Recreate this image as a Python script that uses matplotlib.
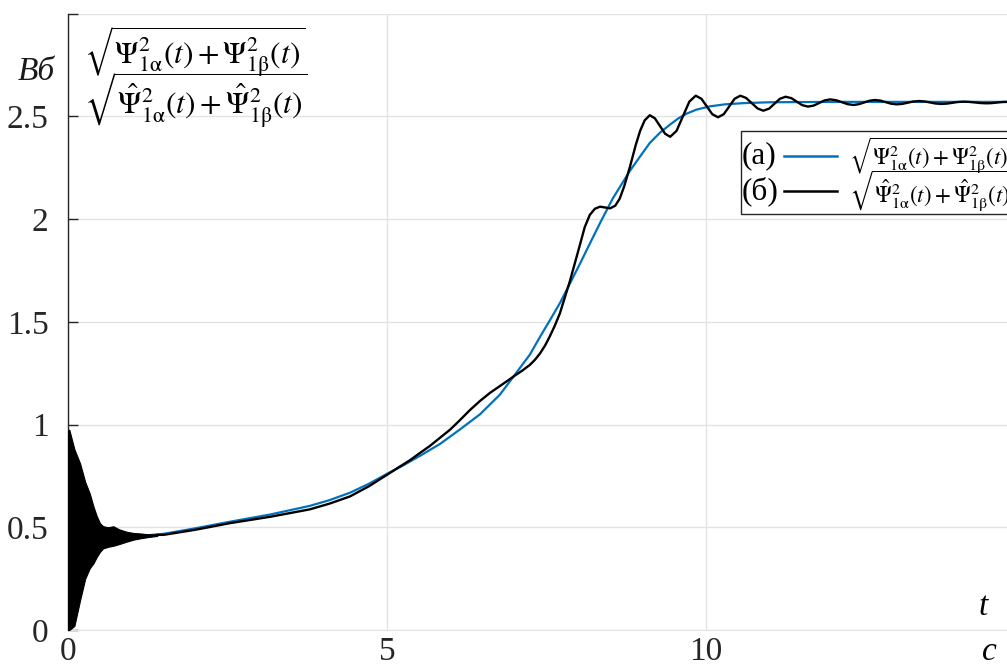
import matplotlib
matplotlib.use("Agg")
import matplotlib.pyplot as plt
from matplotlib.patches import Rectangle
from matplotlib.lines import Line2D

SERIF = ["Liberation Serif", "DejaVu Serif"]
plt.rcParams["font.family"] = SERIF
plt.rcParams["font.serif"] = SERIF
plt.rcParams["mathtext.fontset"] = "stix"

# (а) flux-linkage magnitude of the model, Wb
t_model = [0.0, 1.0, 1.5, 2.0, 2.54, 3.17, 3.79, 4.1, 4.42, 4.72, 5.0, 5.25, 5.52,
           5.83, 6.14, 6.46, 6.77, 7.0, 7.24, 7.4, 7.55, 7.71, 7.87, 8.03, 8.18,
           8.34, 8.54, 8.7, 8.81, 8.97, 9.12, 9.28, 9.44, 9.57, 9.7, 9.85, 10.06,
           10.3, 10.6, 11.0, 12.0, 13.0, 14.72]
psi_model = [0.452, 0.454, 0.468, 0.495, 0.527, 0.562, 0.604, 0.632, 0.668, 0.712,
             0.76, 0.80, 0.848, 0.905, 0.975, 1.05, 1.145, 1.24, 1.34, 1.427,
             1.505, 1.59, 1.687, 1.785, 1.88, 1.98, 2.10, 2.18, 2.235, 2.305, 2.37,
             2.42, 2.46, 2.49, 2.513, 2.532, 2.548, 2.558, 2.564, 2.568, 2.57,
             2.57, 2.57]

# (б) estimated magnitude: envelope of the fast start-up transient
t_start = [0.0, 0.02, 0.1, 0.19, 0.27, 0.34, 0.40, 0.45, 0.50, 0.55, 0.63, 0.71,
           0.80, 0.92, 1.03, 1.13, 1.25, 1.4]
psi_start_hi = [0.97, 0.975, 0.88, 0.81, 0.72, 0.665, 0.60, 0.555, 0.52, 0.505,
                0.50, 0.505, 0.49, 0.478, 0.472, 0.47, 0.466, 0.465]
psi_start_lo = [0.0, 0.0, 0.02, 0.146, 0.25, 0.30, 0.325, 0.355, 0.38, 0.397,
                0.405, 0.41, 0.418, 0.43, 0.44, 0.446, 0.452, 0.458]

# (б) estimated magnitude after the transient
t_est = [1.4, 1.5, 2.0, 2.54, 3.17, 3.79, 4.1, 4.42, 4.72, 5.0, 5.2, 5.36, 5.52,
         5.67, 5.83, 5.99, 6.14, 6.3, 6.46, 6.62, 6.77, 6.9, 7.0, 7.12, 7.24,
         7.32, 7.4, 7.48, 7.55, 7.63, 7.71, 7.79, 7.87, 7.95, 8.03, 8.1, 8.18,
         8.26, 8.34, 8.42, 8.5, 8.58, 8.65, 8.72, 8.81, 8.9, 8.97, 9.04, 9.12,
         9.20, 9.28, 9.36, 9.44, 9.54, 9.64, 9.74, 9.84, 9.93, 10.015, 10.10,
         10.19, 10.28, 10.365, 10.45, 10.54, 10.63, 10.72, 10.81, 10.9, 10.99,
         11.075, 11.16, 11.25, 11.34, 11.425, 11.51, 11.6, 11.69, 11.775, 11.86,
         11.95, 12.04, 12.13, 12.22, 12.31, 12.395, 12.48, 12.565, 12.65,
         12.735, 12.82, 12.905, 12.99, 13.08, 13.165, 13.25, 13.34, 13.43,
         13.515, 13.60, 13.69, 13.78, 13.865, 13.95, 14.04, 14.13, 14.22, 14.31,
         14.4, 14.48, 14.56, 14.64, 14.72]
psi_est = [0.463, 0.463, 0.488, 0.520, 0.551, 0.587, 0.615, 0.650, 0.70, 0.755,
           0.795, 0.826, 0.862, 0.895, 0.935, 0.975, 1.02, 1.07, 1.115, 1.155,
           1.187, 1.215, 1.237, 1.262, 1.29, 1.315, 1.346, 1.385, 1.427, 1.48,
           1.54, 1.62, 1.70, 1.79, 1.88, 1.96, 2.02, 2.05, 2.06, 2.056, 2.052,
           2.065, 2.10, 2.16, 2.255, 2.36, 2.43, 2.48, 2.505, 2.490, 2.4525,
           2.415, 2.40, 2.429, 2.50, 2.571, 2.60, 2.585, 2.5475, 2.510, 2.495,
           2.510, 2.5475, 2.585, 2.60, 2.589, 2.5635, 2.538, 2.527, 2.537, 2.561,
           2.585, 2.595, 2.588, 2.571, 2.554, 2.547, 2.552, 2.5645, 2.577, 2.582,
           2.578, 2.5685, 2.559, 2.555, 2.5585, 2.567, 2.5755, 2.579, 2.576,
           2.5685, 2.561, 2.558, 2.5603, 2.566, 2.5717, 2.574, 2.572, 2.567,
           2.562, 2.56, 2.5616, 2.5655, 2.5694, 2.571, 2.5698, 2.567, 2.5642,
           2.563, 2.564, 2.5665, 2.569, 2.570]

x_ticks = [0, 5, 10]
x_tick_labels = ["0", "5", "10"]
y_ticks = [0, 0.5, 1, 1.5, 2, 2.5, 3]
y_tick_labels = ["0", "0.5", "1", "1.5", "2", "2.5", ""]

BLUE = "#0072BD"
GRID = "#e3e3e3"
INK = "#262626"

fig = plt.figure(figsize=(10.07, 6.68), dpi=100)
ax = fig.add_axes([68 / 1007, 38 / 668, 939 / 1007, 616.5 / 668])

ax.plot(t_model, psi_model, color=BLUE, lw=1.6, zorder=3,
        solid_joinstyle="round")
ax.fill_between(t_start, psi_start_lo, psi_start_hi, color="black", lw=0.8,
                edgecolor="black", zorder=4)
ax.plot(t_est, psi_est, color="black", lw=1.7, zorder=4,
        solid_joinstyle="round")

ax.set_xlim(0, 14.72)
ax.set_ylim(0, 3.0)
ax.set_xticks(x_ticks)
ax.set_xticklabels(x_tick_labels, family=SERIF, fontsize=24, color=INK)
ax.set_yticks(y_ticks)
ax.set_yticklabels(y_tick_labels, family=SERIF, fontsize=24, color=INK)
ax.tick_params(axis="y", direction="in", length=7, width=1, pad=14,
               colors=INK)
ax.tick_params(axis="x", length=0, pad=5)
ax.grid(True, color=GRID, lw=1)
ax.set_axisbelow(True)
for side in ("top", "right"):
    ax.spines[side].set_visible(False)
ax.spines["bottom"].set_color(GRID)
ax.spines["left"].set_color(INK)
ax.spines["left"].set_linewidth(1)

# axis names
fig.text(18 / 1007, 1 - 72 / 668, "Вб", fontsize=24, style="italic",
         family=SERIF, ha="left", va="center", color="#1a1a1a")
fig.text(979 / 1007, 1 - 607 / 668, "t", fontsize=24, style="italic",
         family=SERIF, ha="left", va="center")
fig.text(982 / 1007, 1 - 652 / 668, "с", fontsize=24, style="italic",
         family=SERIF, ha="left", va="center")

num = r"$\sqrt{\Psi^2_{1\mathrm{\alpha}}(t)+\Psi^2_{1\mathrm{\beta}}(t)}$"
den = r"$\sqrt{\hat{\Psi}^2_{1\mathrm{\alpha}}(t)+\hat{\Psi}^2_{1\mathrm{\beta}}(t)}$"
fig.text(84 / 1007, 1 - 52 / 668, num, fontsize=22.5, ha="left", va="center")
fig.text(84 / 1007, 1 - 100 / 668, den, fontsize=22.5, ha="left", va="center")

# legend box
def ax_frac(px, py):
    return (px - 68) / 939, (630 - py) / 616.5

x0, y0 = ax_frac(741, 214)
x1, y1 = ax_frac(1020, 131)
ax.add_patch(Rectangle((x0, y0), x1 - x0, y1 - y0, transform=ax.transAxes,
                       facecolor="white", edgecolor=INK, lw=1, zorder=6,
                       clip_on=False))
rows = [(156, "(а)", BLUE, num), (191, "(б)", "black", den)]
for py, tag, col, formula in rows:
    lx, ly = ax_frac(742, py)
    ax.text(lx, ly, tag, transform=ax.transAxes, fontsize=22.5, family=SERIF,
            ha="left", va="center", zorder=7)
    a, _ = ax_frac(784, py)
    b, _ = ax_frac(837, py)
    ax.add_line(Line2D([a, b], [ly, ly], transform=ax.transAxes, color=col,
                       lw=1.8, zorder=7))
    fx, _ = ax_frac(849, py)
    ax.text(fx, ly, formula, transform=ax.transAxes, fontsize=16.5,
            ha="left", va="center", zorder=7, clip_on=False)

fig.savefig("out.png", dpi=100, facecolor="white")
